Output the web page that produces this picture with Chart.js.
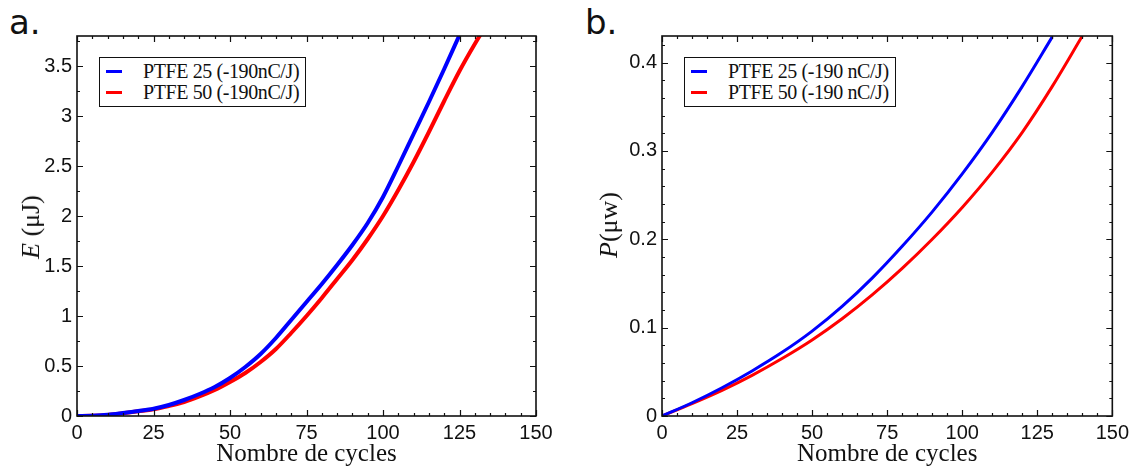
<!DOCTYPE html>
<html>
<head>
<meta charset="utf-8">
<title>Energie et puissance PTFE</title>
<script src="https://cdn.jsdelivr.net/npm/chart.js@4.4.0/dist/chart.umd.min.js"></script>
<style>
  body { margin: 0; background: #fff; }
  #wrap { position: relative; width: 1134px; height: 469px; overflow: hidden; }
  canvas { position: absolute; top: 0; }
  .panel-tag { position: absolute; top: 2px; font-family: 'DejaVu Sans', sans-serif; font-size: 34px; color: #111; }
  .ytitle {
    position: absolute; white-space: nowrap;
    font-family: 'Liberation Serif', serif; font-size: 26px; color: #111;
    transform: translate(-50%, -50%) rotate(-90deg);
  }
  .legend {
    position: absolute; box-sizing: border-box; height: 50px;
    border: 1px solid #111; background: #fff; padding-top: 3px;
    font-family: 'Liberation Serif', serif; font-size: 20px; color: #111;
    letter-spacing: -0.4px; white-space: nowrap;
  }
  .legend-row { display: flex; align-items: center; height: 21px; }
  .legend-swatch { width: 16px; height: 3px; margin-left: 6px; margin-right: 21px; flex: none; }
</style>
</head>
<body>
<div id="wrap">
  <div class="panel-tag" style="left:9px;">a.</div>
  <div class="panel-tag" style="left:585px;">b.</div>
  <canvas id="energy-chart" width="567" height="469" style="left:0;"></canvas>
  <canvas id="power-chart" width="567" height="469" style="left:567px;"></canvas>
  <div class="ytitle" style="left:31px; top:227px;"><i>E</i> (&mu;J)</div>
  <div class="ytitle" style="left:609px; top:225px;"><i>P</i>(&mu;w)</div>
  <div class="legend" id="energy-legend" style="left:99px; top:57px; width:207px;"></div>
  <div class="legend" id="power-legend" style="left:684px; top:57px; width:212px;"></div>
</div>

<script>
'use strict';

// ***************** DATA ***************** //

let energyCycles25 = [0, 5, 10, 15, 20, 25, 30, 35, 40, 45, 50, 55, 60, 65, 70, 75, 80, 85, 90, 95, 100, 105, 110, 115, 120, 125];
let energy25 = [0, 0.003, 0.012, 0.03, 0.05, 0.073, 0.11, 0.16, 0.22, 0.29, 0.38, 0.49, 0.62, 0.78, 0.96, 1.14, 1.32, 1.51, 1.71, 1.93, 2.19, 2.5, 2.82, 3.14, 3.47, 3.81];

let energyCycles50 = [0, 5, 10, 15, 20, 25, 30, 35, 40, 45, 50, 55, 60, 65, 70, 75, 80, 85, 90, 95, 100, 105, 110, 115, 120, 125, 130, 135];
let energy50 = [0, 0.003, 0.011, 0.028, 0.047, 0.067, 0.1, 0.14, 0.195, 0.26, 0.34, 0.43, 0.54, 0.67, 0.83, 1.0, 1.18, 1.37, 1.56, 1.77, 2.0, 2.26, 2.54, 2.84, 3.15, 3.45, 3.72, 3.97];

let powerCycles25 = [0, 10, 20, 30, 40, 50, 60, 70, 80, 90, 100, 110, 120, 130];
let power25 = [0, 0.015, 0.032, 0.051, 0.072, 0.096, 0.124, 0.156, 0.192, 0.231, 0.274, 0.321, 0.373, 0.429];

let powerCycles50 = [0, 10, 20, 30, 40, 50, 60, 70, 80, 90, 100, 110, 120, 130, 140];
let power50 = [0, 0.014, 0.029, 0.046, 0.065, 0.086, 0.11, 0.137, 0.167, 0.2, 0.236, 0.276, 0.321, 0.373, 0.43];

let energyLabels = ['PTFE 25 (-190nC/J)', 'PTFE 50 (-190nC/J)'];
let powerLabels = ['PTFE 25 (-190 nC/J)', 'PTFE 50 (-190 nC/J)'];

let cycleTicks = [0, 25, 50, 75, 100, 125, 150];
let energyTicks = [0, 0.5, 1, 1.5, 2, 2.5, 3, 3.5];
let powerTicks = [0, 0.1, 0.2, 0.3, 0.4];

let blue = '#0000ff';
let red = '#ff0000';
let ink = '#111111';

// ***************** HELPERS ***************** //

function toPoints(xs, ys) {
  let pts = [];
  for (let i = 0; i < xs.length; i++) {
    pts.push({ x: xs[i], y: ys[i] });
  }
  return pts;
}

function isMultiple(v, step) {
  let r = v / step;
  return Math.abs(r - Math.round(r)) < 1e-6;
}

// frame on all four sides + inward major/minor ticks
let framePlugin = {
  id: 'frame',
  afterDraw(chart, args, opts) {
    let ctx = chart.ctx;
    let a = chart.chartArea;
    let xs = chart.scales.x;
    let ys = chart.scales.y;

    ctx.save();
    ctx.strokeStyle = ink;
    ctx.lineWidth = 1.2;
    ctx.beginPath();
    for (let v = xs.min; v <= xs.max + 1e-9; v += opts.xMinor) {
      let px = Math.round(xs.getPixelForValue(v)) + 0.5;
      let len = isMultiple(v, opts.xMajor) ? 6 : 3;
      ctx.moveTo(px, a.bottom);
      ctx.lineTo(px, a.bottom - len);
      ctx.moveTo(px, a.top);
      ctx.lineTo(px, a.top + len);
    }
    for (let v = ys.min; v <= ys.max + 1e-9; v += opts.yMinor) {
      let py = Math.round(ys.getPixelForValue(v)) + 0.5;
      let len = isMultiple(v, opts.yMajor) ? 6 : 3;
      ctx.moveTo(a.left, py);
      ctx.lineTo(a.left + len, py);
      ctx.moveTo(a.right, py);
      ctx.lineTo(a.right - len, py);
    }
    ctx.stroke();

    ctx.lineWidth = 1.6;
    ctx.strokeRect(a.left, a.top, a.right - a.left, a.bottom - a.top);
    ctx.restore();
  }
};

function makeChart(canvasId, cfg) {
  let ctx = document.getElementById(canvasId).getContext('2d');

  let chartObj = {
    type: 'line',
    data: {
      datasets: [
        {
          label: cfg.labels[0],
          data: toPoints(cfg.xs[0], cfg.ys[0]),
          borderColor: blue,
          backgroundColor: blue,
          borderWidth: cfg.lineWidth,
          pointRadius: 0,
          cubicInterpolationMode: 'monotone',
          order: 1
        },
        {
          label: cfg.labels[1],
          data: toPoints(cfg.xs[1], cfg.ys[1]),
          borderColor: red,
          backgroundColor: red,
          borderWidth: cfg.lineWidth,
          pointRadius: 0,
          cubicInterpolationMode: 'monotone',
          order: 2
        }
      ]
    },
    options: {
      responsive: false,
      animation: false,
      events: [],
      layout: {
        padding: { top: 36, right: cfg.padRight, left: 0, bottom: 0 }
      },
      plugins: {
        legend: { display: false },
        tooltip: { enabled: false },
        frame: { xMinor: 5, xMajor: 25, yMinor: cfg.yMinor, yMajor: cfg.yMajor }
      },
      scales: {
        x: {
          type: 'linear',
          min: 0,
          max: 150,
          grid: { display: false, drawTicks: false },
          border: { display: false },
          afterBuildTicks: (s) => { s.ticks = cycleTicks.map(v => ({ value: v })); },
          afterFit: (s) => { s.height = 53; },
          ticks: {
            padding: 5,
            maxRotation: 0,
            color: ink,
            font: { family: 'Liberation Sans', size: 20 },
            callback: (v) => String(v)
          },
          title: {
            display: true,
            text: 'Nombre de cycles',
            color: ink,
            padding: { top: 0, bottom: 2 },
            font: { family: 'Liberation Serif', size: 25, lineHeight: 1 }
          }
        },
        y: {
          type: 'linear',
          min: 0,
          max: cfg.yMax,
          grid: { display: false, drawTicks: false },
          border: { display: false },
          afterBuildTicks: (s) => { s.ticks = cfg.yTicks.map(v => ({ value: v })); },
          afterFit: (s) => { s.width = cfg.yWidth; },
          ticks: {
            padding: 5,
            color: ink,
            font: { family: 'Liberation Sans', size: 20 },
            callback: (v) => String(v)
          }
        }
      }
    },
    plugins: [framePlugin]
  };

  return new Chart(ctx, chartObj);
}

function renderLegend(chart, elId) {
  let box = document.getElementById(elId);
  chart.data.datasets.forEach((ds) => {
    let row = document.createElement('div');
    row.className = 'legend-row';
    let sw = document.createElement('span');
    sw.className = 'legend-swatch';
    sw.style.background = ds.borderColor;
    let txt = document.createElement('span');
    txt.textContent = ds.label;
    row.appendChild(sw);
    row.appendChild(txt);
    box.appendChild(row);
  });
}

// ***************** RENDER ***************** //

let energyChart = makeChart('energy-chart', {
  labels: energyLabels,
  xs: [energyCycles25, energyCycles50],
  ys: [energy25, energy50],
  lineWidth: 4,
  yMax: 3.8,
  yTicks: energyTicks,
  yMinor: 0.25,
  yMajor: 0.5,
  yWidth: 77,
  padRight: 31
});

let powerChart = makeChart('power-chart', {
  labels: powerLabels,
  xs: [powerCycles25, powerCycles50],
  ys: [power25, power50],
  lineWidth: 3,
  yMax: 0.43,
  yTicks: powerTicks,
  yMinor: 0.02,
  yMajor: 0.1,
  yWidth: 95,
  padRight: 13
});

renderLegend(energyChart, 'energy-legend');
renderLegend(powerChart, 'power-legend');
</script>
</body>
</html>
